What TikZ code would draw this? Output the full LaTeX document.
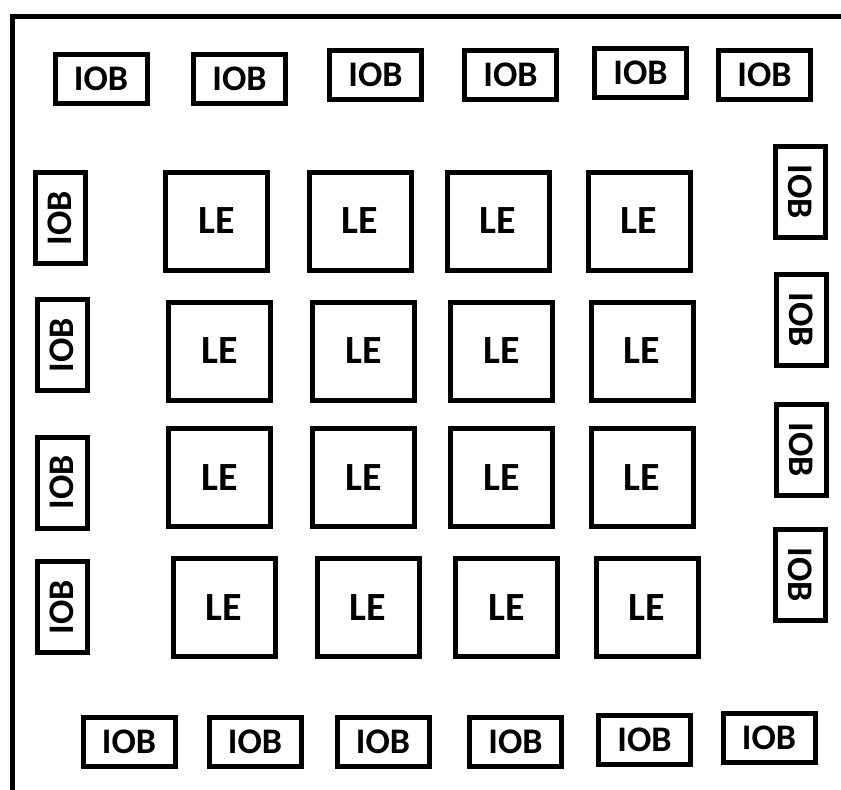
\documentclass[tikz,border=0pt]{standalone}
\usepackage{fontspec}
\setmainfont{Carlito}
\begin{document}
\begin{tikzpicture}[x=1pt,y=-1pt,
  box/.style={draw=black,line width=5pt,fill=white,inner sep=0pt,font=\fontsize{36}{36}\selectfont\bfseries},
  iobh/.style={box,minimum width=92pt,minimum height=49pt},
  iobl/.style={box,minimum width=50pt,minimum height=91pt},
  iobr/.style={box,minimum width=50pt,minimum height=91pt},
  lebox/.style={box,minimum width=102pt,minimum height=98pt,font=\fontsize{40}{40}\selectfont\bfseries},
  frame/.style={draw=black,line width=5pt}]
\useasboundingbox (0,0) rectangle (841,790);
% outer frame (open on right and bottom)
\coordinate (fb) at (12,792);
\coordinate (fc) at (12,16);
\coordinate (fr) at (843,16);
\draw[frame] (fb) -- (fc) -- (fr);
% top IOBs
\node[iobh] (t1) at (101,79) {IOB};
\node[iobh] (t2) at (239.5,79) {IOB};
\node[iobh] (t3) at (375.5,74.5) {IOB};
\node[iobh] (t4) at (510.5,74.5) {IOB};
\node[iobh] (t5) at (640.5,73) {IOB};
\node[iobh] (t6) at (764.5,75) {IOB};
% bottom IOBs
\node[iobh] (b1) at (129,741.5) {IOB};
\node[iobh] (b2) at (255,741.5) {IOB};
\node[iobh] (b3) at (383,741.5) {IOB};
\node[iobh] (b4) at (515.5,741.5) {IOB};
\node[iobh] (b5) at (644.5,739.5) {IOB};
\node[iobh] (b6) at (769,738) {IOB};
% left IOBs
\node[iobl] (l1) at (60,218) {\rotatebox{90}{IOB}};
\node[iobl] (l2) at (62,345) {\rotatebox{90}{IOB}};
\node[iobl] (l3) at (62,482.5) {\rotatebox{90}{IOB}};
\node[iobl] (l4) at (62,607) {\rotatebox{90}{IOB}};
% right IOBs
\node[iobr] (r1) at (800,192) {\rotatebox{-90}{IOB}};
\node[iobr] (r2) at (801.5,320) {\rotatebox{-90}{IOB}};
\node[iobr] (r3) at (801.5,450) {\rotatebox{-90}{IOB}};
\node[iobr] (r4) at (800,574.5) {\rotatebox{-90}{IOB}};
% LEs
\node[lebox] (e11) at (216.5,221) {LE};
\node[lebox] (e12) at (360,221) {LE};
\node[lebox] (e13) at (498,221) {LE};
\node[lebox] (e14) at (639,221) {LE};
\node[lebox] (e21) at (219.5,351) {LE};
\node[lebox] (e22) at (363.5,351) {LE};
\node[lebox] (e23) at (501.5,351) {LE};
\node[lebox] (e24) at (642,351) {LE};
\node[lebox] (e31) at (219.5,477.5) {LE};
\node[lebox] (e32) at (363.5,477.5) {LE};
\node[lebox] (e33) at (501.5,477.5) {LE};
\node[lebox] (e34) at (642,477.5) {LE};
\node[lebox] (e41) at (224,607.5) {LE};
\node[lebox] (e42) at (368,607.5) {LE};
\node[lebox] (e43) at (506.5,607.5) {LE};
\node[lebox] (e44) at (647,607.5) {LE};
\end{tikzpicture}
\end{document}
